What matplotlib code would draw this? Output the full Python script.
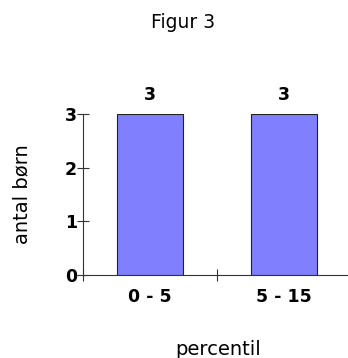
import matplotlib
matplotlib.use('Agg')
import numpy as np
from matplotlib import pyplot as plt

categories = ['0 - 5', '5 - 15']
counts = [3, 3]
yticks = [0, 1, 2, 3]

plt.rcParams['font.family'] = 'DejaVu Sans'
axcol = '#333333'

fig = plt.figure(figsize=(3.48, 3.58), dpi=100)
ax = fig.add_axes([83/348, 1 - 275/358, 268/348, 161/358])

x = np.arange(len(categories))
bars = ax.bar(x, counts, width=0.49, color='#8080ff', edgecolor='#222222', linewidth=0.8)
for xi, v in zip(x, counts):
    ax.text(xi, v + 0.18, str(v), ha='center', va='bottom', fontsize=12.5, fontweight='bold')

ax.set_xlim(-0.5, len(categories) - 0.5)
ax.set_ylim(0, 3)
ax.set_yticks(yticks)
ax.set_yticklabels([str(t) for t in yticks], fontsize=12.5, fontweight='bold')
ax.tick_params(axis='y', direction='inout', length=9, width=0.8, color=axcol, pad=0)

# category ticks sit between the bars, labels centered under the bars
ax.set_xticks(np.arange(len(categories) + 1) - 0.5)
ax.set_xticklabels([])
ax.set_xticks(x, minor=True)
ax.set_xticklabels(categories, minor=True, fontsize=12.5, fontweight='bold')
ax.tick_params(axis='x', which='major', direction='inout', length=9, width=0.8, color=axcol)
ax.tick_params(axis='x', which='minor', length=0, pad=9)

for s in ['top', 'right']:
    ax.spines[s].set_visible(False)
for s in ['left', 'bottom']:
    ax.spines[s].set_linewidth(0.8)
    ax.spines[s].set_color(axcol)

ax.set_ylabel('antal børn', fontsize=14, labelpad=24)
fig.text(218/348, 1 - 355/358, 'percentil', ha='center', va='baseline', fontsize=14)
fig.text(183/348, 1 - 22/358, 'Figur 3', ha='center', va='center', fontsize=13.5)

fig.savefig('out.png', dpi=100)
